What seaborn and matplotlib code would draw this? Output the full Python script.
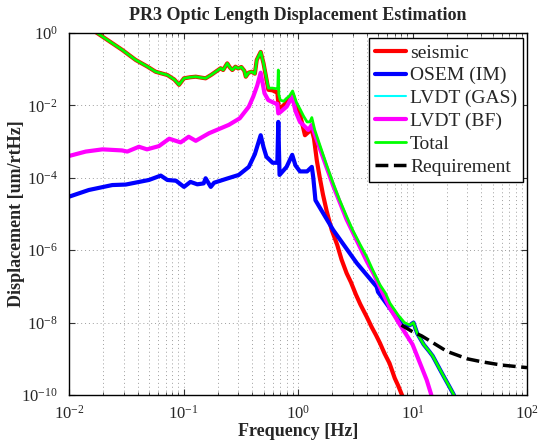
import numpy as np
import pandas as pd
import seaborn as sns
import matplotlib
matplotlib.use('Agg')
import matplotlib.pyplot as plt
from matplotlib.ticker import LogLocator, NullLocator, LogFormatterSciNotation

# seismic contribution
seis_f = [0.01, 0.0176, 0.0292, 0.0382, 0.048, 0.0571, 0.0723, 0.083, 0.0914, 0.101, 0.115,
          0.128, 0.145, 0.156, 0.175, 0.191, 0.211, 0.222, 0.241, 0.255, 0.267, 0.284, 0.30,
          0.32, 0.34, 0.35, 0.37, 0.394, 0.42, 0.436, 0.472, 0.50, 0.551, 0.60, 0.63, 0.66,
          0.68, 0.72, 0.795, 0.85, 0.90, 0.97, 1.05, 1.15, 1.25, 1.32, 1.38, 1.46, 1.55,
          1.65, 1.78, 1.97, 2.2, 2.4, 2.66, 2.9, 3.2, 3.5, 3.98, 4.4, 4.8, 5.2, 5.7, 6.3,
          7.0, 7.5, 8.2]
seis_d = [3.3, 1.0, 0.34, 0.18, 0.12, 0.085, 0.069, 0.052, 0.037, 0.056, 0.060,
          0.062, 0.058, 0.056, 0.070, 0.085, 0.106, 0.095, 0.145, 0.11, 0.095, 0.117, 0.105,
          0.115, 0.09, 0.062, 0.08, 0.085, 0.075, 0.18, 0.30, 0.145, 0.027, 0.026, 0.024, 0.023,
          0.008, 0.009, 0.012, 0.016, 0.02, 0.009, 0.005, 0.0015, 0.0019, 0.0021, 0.0012, 3e-4, 1e-4,
          3.5e-5, 1.2e-5, 3.6e-6, 1.4e-6, 5.5e-7, 2.3e-7, 1.3e-7, 6e-8, 3.2e-8, 1.45e-8, 7.5e-9,
          4.5e-9, 2.7e-9, 1.4e-9, 7.5e-10, 2.9e-10, 1.8e-10, 0.9e-10]

# OSEM (IM)
osem_f = [0.01, 0.0149, 0.0239, 0.0313, 0.0499, 0.0633, 0.0723, 0.086, 0.101, 0.115, 0.132,
          0.150, 0.156, 0.173, 0.185, 0.24, 0.304, 0.372, 0.42, 0.472, 0.50, 0.53, 0.60, 0.66,
          0.673, 0.69, 0.795, 0.89, 0.95, 1.04, 1.2, 1.32, 1.36, 1.42, 1.6, 2.03, 3.26, 4.86,
          5.0, 8.3, 9.5, 10.2, 11.0, 12.5, 14.0, 15.0, 17.4, 19.0, 21.0, 23.0]
osem_d = [3.0e-5, 4.6e-5, 6.3e-5, 6.5e-5, 8.7e-5, 1.15e-4, 8.7e-5, 8.3e-5, 5.6e-5, 7.7e-5, 6.6e-5,
          7.0e-5, 9.7e-5, 5.6e-5, 7.3e-5, 9.5e-5, 1.2e-4, 2.0e-4, 4.5e-4, 1.5e-3, 7e-4, 3.8e-4, 2.6e-4, 2.6e-4,
          3.5e-3, 1.2e-4, 2.0e-4, 4.3e-4, 2.2e-4, 1.5e-4, 1.5e-4, 2.0e-4, 1.0e-4, 2.4e-5, 1.27e-5, 3.6e-6,
          4.4e-7, 9.8e-8, 7.0e-8, 7.7e-9, 8.5e-9, 1.0e-8, 5e-9, 2.5e-9, 1.6e-9, 1.2e-9, 5e-10, 3e-10,
          1.7e-10, 1e-10]

# LVDT (GAS): not visible inside the plotted range
gas_f = []
gas_d = []

# LVDT (BF)
bf_f = [0.01, 0.014, 0.0196, 0.029, 0.0323, 0.0408, 0.048, 0.061, 0.075, 0.0944, 0.111, 0.128,
        0.167, 0.249, 0.31, 0.372, 0.406, 0.44, 0.472, 0.51, 0.55, 0.63, 0.66, 0.673, 0.70,
        0.795, 0.89, 0.95, 1.04, 1.23, 1.32, 1.40, 2.03, 2.66, 3.98, 4.55, 6.36, 7.8, 10.0,
        13.3, 14.6]
bf_d = [4.0e-4, 5.3e-4, 6.1e-4, 5.7e-4, 5.3e-4, 7.2e-4, 6.1e-4, 7.5e-4, 1.2e-3, 9.5e-4, 1.36e-3, 1.05e-3,
        1.7e-3, 2.9e-3, 4.4e-3, 9.2e-3, 0.0173, 0.035, 0.08, 0.0215, 0.014, 0.0114, 0.011, 0.006, 0.0065,
        9.2e-3, 0.0173, 0.007, 3.5e-3, 2.1e-3, 2.9e-3, 1.6e-3, 6e-5, 7e-6, 5e-7, 2.3e-7, 2.5e-8, 8.5e-9,
        2.5e-9, 2.6e-10, 1e-10]

# Total
tot_f = [0.01, 0.0176, 0.0292, 0.0382, 0.048, 0.0571, 0.0723, 0.083, 0.0914, 0.101, 0.115,
         0.128, 0.145, 0.156, 0.175, 0.191, 0.211, 0.222, 0.241, 0.255, 0.267, 0.284, 0.30,
         0.32, 0.34, 0.35, 0.37, 0.394, 0.42, 0.436, 0.472, 0.50, 0.551, 0.60, 0.64, 0.665,
         0.673, 0.68, 0.70, 0.75, 0.795, 0.84, 0.897, 0.97, 1.05, 1.12, 1.2, 1.27, 1.32, 1.40,
         1.6, 1.8, 2.03, 2.3, 2.66, 3.0, 3.5, 3.98, 4.5, 5.2, 5.8, 6.36, 7.5, 8.5, 9.5, 10.2,
         11.0, 12.5, 14.0, 15.0, 17.4, 19.0, 21.0, 23.0]
tot_d = [3.3, 1.0, 0.34, 0.18, 0.12, 0.085, 0.069, 0.052, 0.037, 0.056, 0.060,
         0.062, 0.058, 0.056, 0.070, 0.085, 0.106, 0.095, 0.145, 0.11, 0.095, 0.117, 0.105,
         0.115, 0.09, 0.062, 0.08, 0.085, 0.075, 0.18, 0.30, 0.145, 0.030, 0.030, 0.029, 0.030,
         0.095, 0.02, 0.014, 0.013, 0.0157, 0.018, 0.025, 0.012, 0.0075, 0.005, 0.0035, 0.0035, 0.0046, 0.0021,
         6e-4, 2e-4, 7e-5, 2.5e-5, 8.5e-6, 3.6e-6, 1.4e-6, 6.6e-7, 2.8e-7, 1.1e-7, 6.5e-8, 3.4e-8, 1.6e-8,
         1.0e-8, 8.5e-9, 1.0e-8, 5e-9, 2.5e-9, 1.6e-9, 1.2e-9, 5e-10, 3e-10, 1.7e-10, 1e-10]

# Requirement
req_f = [8.0, 10.0, 12.0, 15.0, 20.0, 30.0, 40.0, 60.0, 100.0]
req_d = [8.5e-9, 5.6e-9, 4.3e-9, 2.8e-9, 1.6e-9, 1.0e-9, 8.3e-10, 6.7e-10, 5.7e-10]

sns.set_style("ticks")
plt.rcParams['font.family'] = ['Liberation Serif', 'DejaVu Serif']
plt.rcParams['mathtext.fontset'] = 'custom'
plt.rcParams['mathtext.rm'] = 'Liberation Serif'
plt.rcParams['mathtext.it'] = 'Liberation Serif:italic'
plt.rcParams['mathtext.bf'] = 'Liberation Serif:bold'

fig = plt.figure(figsize=(5.45, 4.44), dpi=100)
ax = fig.add_axes([0.1266, 0.1104, 0.8404, 0.8153])

series = [
    ('seismic', seis_f, seis_d, 'red', 3.0, '-'),
    ('OSEM (IM)', osem_f, osem_d, 'blue', 3.0, '-'),
    ('LVDT (GAS)', gas_f, gas_d, 'cyan', 1.5, '-'),
    ('LVDT (BF)', bf_f, bf_d, 'magenta', 3.0, '-'),
    ('Total', tot_f, tot_d, 'lime', 2.0, '-'),
    ('Requirement', req_f, req_d, 'black', 2.5, '--'),
]

for name, f, d, col, lw, ls in series:
    if len(f) == 0:
        ax.plot([], [], color=col, lw=lw, label=name)
        continue
    df = pd.DataFrame({'freq': f, 'disp': d})
    line_kw = dict(dashes=(2.5, 1.6)) if ls == '--' else {}
    sns.lineplot(data=df, x='freq', y='disp', ax=ax, color=col, lw=lw, linestyle=ls,
                 label=name, sort=False, estimator=None, **line_kw)

ax.set_xscale('log')
ax.set_yscale('log')
ax.set_xlim(1e-2, 1e2)
ax.set_ylim(1e-10, 1e0)

ax.xaxis.set_major_locator(LogLocator(base=10, numticks=10))
ax.xaxis.set_minor_locator(LogLocator(base=10, subs=np.arange(2, 10), numticks=20))
ax.set_yticks([1e-10, 1e-8, 1e-6, 1e-4, 1e-2, 1e0])
ax.yaxis.set_major_formatter(LogFormatterSciNotation())
ax.yaxis.set_minor_locator(NullLocator())

grid_kw = dict(color='0.62', linestyle=(0, (1, 3)), linewidth=0.7)
ax.grid(True, which='major', **grid_kw)
ax.grid(True, which='minor', axis='x', **grid_kw)
ax.tick_params(which='both', direction='in', top=True, right=True, labelsize=12, color='0.2')
ax.tick_params(which='major', length=4)
ax.tick_params(which='minor', length=2)
ax.tick_params(axis='x', which='major', pad=7)
ax.tick_params(axis='y', which='major', pad=8)
for s in ax.spines.values():
    s.set_linewidth(1.0)
    s.set_color('black')

ax.set_title('PR3 Optic Length Displacement Estimation', fontsize=13, fontweight='bold', pad=9)
ax.set_xlabel('Frequency [Hz]', fontsize=13, fontweight='bold', labelpad=0)
ax.set_ylabel('Displacement [um/rtHz]', fontsize=13, fontweight='bold')
ax.yaxis.set_label_coords(-0.096, 0.5)

leg = ax.legend(loc='upper right', bbox_to_anchor=(0.991, 0.986), borderaxespad=0,
                fontsize=14, frameon=True, fancybox=False, framealpha=1, edgecolor='black',
                handlelength=1.6, handletextpad=0.2, labelspacing=0.27, borderpad=0.3)
leg.get_frame().set_linewidth(1.0)

plt.savefig('out.png', dpi=100)
